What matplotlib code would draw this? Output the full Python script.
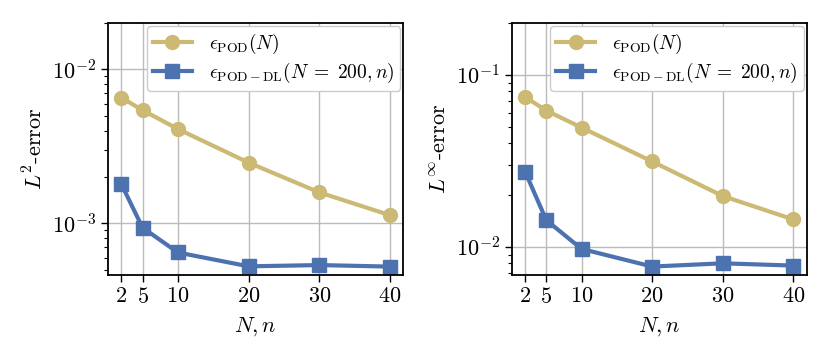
import numpy as np
import matplotlib; matplotlib.use("Agg")
import matplotlib.pyplot as plt

plt.rcParams.update({
    "font.family": "serif",
    "font.serif": ["cmr10", "DejaVu Serif"],
    "mathtext.fontset": "cm",
    "axes.formatter.use_mathtext": True,
    "font.size": 16,
    "axes.linewidth": 1.3,
})

# --- data ---
n_vals = [2, 5, 10, 20, 30, 40]
l2_pod = [6.56e-3, 5.43e-3, 4.10e-3, 2.48e-3, 1.59e-3, 1.13e-3]
l2_dl = [1.80e-3, 9.38e-4, 6.47e-4, 5.26e-4, 5.36e-4, 5.24e-4]
linf_pod = [0.0743, 0.0619, 0.0493, 0.0313, 0.0197, 0.0144]
linf_dl = [0.0273, 0.01426, 0.0097, 0.00766, 0.0080, 0.00776]

gold = "#CCB974"
blue = "#4C72B0"
lab_pod = r"$\epsilon_{\mathrm{POD}}(N)$"
lab_dl = r"$\epsilon_{\mathrm{POD-DL}}(N\;=\;200,n)$"

fig = plt.figure(figsize=(8.3, 3.6), dpi=100)
ax1 = fig.add_axes([0.130, 0.236, 0.356, 0.700])
ax2 = fig.add_axes([0.6165, 0.236, 0.3555, 0.700])

panels = [(ax1, l2_pod, l2_dl, r"$L^2$-error", 2e-2),
          (ax2, linf_pod, linf_dl, r"$L^\infty$-error", 2e-1)]
for ax, pod, dl, ylab, ytop in panels:
    ax.plot(n_vals, pod, "-o", color=gold, lw=3, ms=10, label=lab_pod)
    ax.plot(n_vals, dl, "-s", color=blue, lw=3, ms=10, label=lab_dl)
    ax.set_yscale("log")
    ax.set_xticks(n_vals)
    ax.set_ylim(top=ytop)
    ax.grid(True, which="major", color="#bbbbbb", lw=1.0)
    ax.set_axisbelow(True)
    ax.set_xlabel(r"$N, n$", labelpad=6)
    ax.set_ylabel(ylab)
    ax.tick_params(which="major", length=5, width=1.0)
    ax.tick_params(which="minor", length=3, width=0.8)
    ax.legend(loc="upper right", fontsize=14, handlelength=2.0,
              handletextpad=0.9, borderaxespad=0.15, labelspacing=0.25,
              borderpad=0.3, edgecolor="#cccccc", framealpha=1.0)

fig.savefig("out.png", dpi=100, facecolor="white")
